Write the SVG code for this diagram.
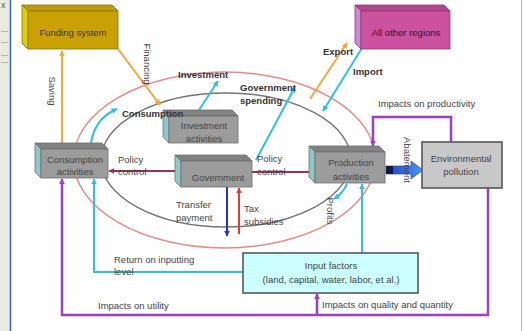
<svg xmlns="http://www.w3.org/2000/svg" width="526" height="331" viewBox="0 0 526 331">
  <style>
    .t { font-family: "Liberation Sans", Arial, sans-serif; font-size: 9.5px; fill: #444; }
    .b { font-weight: bold; fill: #333; }
    .m { text-anchor: middle; }
    .ln { fill: none; stroke-width: 2; }
    .cy { stroke: #30bfe6; }
    .or { stroke: #f2a93a; }
    .pu { stroke: #9a3fc6; stroke-width: 2.5; }
    .mr { stroke: #9b2f55; }
    .gtop { fill: #828282; stroke: #6e6e6e; stroke-width: 0.8; }
    .gside { fill: #8ccaca; stroke: #6e6e6e; stroke-width: 0.8; }
    .gfront { fill: #9c9c9c; stroke: #6e6e6e; stroke-width: 0.8; }
  </style>
  <defs>
    <marker id="aCy" viewBox="0 0 10 10" refX="9" refY="5" markerWidth="6" markerHeight="6" orient="auto" markerUnits="userSpaceOnUse"><path d="M0,0 L10,5 L0,10 z" fill="#30bfe6"/></marker>
    <marker id="aOr" viewBox="0 0 10 10" refX="9" refY="5" markerWidth="6" markerHeight="6" orient="auto" markerUnits="userSpaceOnUse"><path d="M0,0 L10,5 L0,10 z" fill="#f2a93a"/></marker>
    <marker id="aPu" viewBox="0 0 10 10" refX="9" refY="5" markerWidth="6" markerHeight="6" orient="auto" markerUnits="userSpaceOnUse"><path d="M0,0 L10,5 L0,10 z" fill="#9a3fc6"/></marker>
    <marker id="aMr" viewBox="0 0 10 10" refX="9" refY="5" markerWidth="6" markerHeight="6" orient="auto" markerUnits="userSpaceOnUse"><path d="M0,0 L10,5 L0,10 z" fill="#9b2f55"/></marker>
    <marker id="aBl" viewBox="0 0 10 10" refX="9" refY="5" markerWidth="6" markerHeight="6" orient="auto" markerUnits="userSpaceOnUse"><path d="M0,0 L10,5 L0,10 z" fill="#2233cc"/></marker>
    <marker id="aRd" viewBox="0 0 10 10" refX="9" refY="5" markerWidth="6" markerHeight="6" orient="auto" markerUnits="userSpaceOnUse"><path d="M0,0 L10,5 L0,10 z" fill="#e83a3a"/></marker>
    <linearGradient id="abate" x1="0" y1="0" x2="1" y2="0">
      <stop offset="0" stop-color="#1d44c8"/>
      <stop offset="1" stop-color="#4d95f2"/>
    </linearGradient>
  </defs>

  <!-- page -->
  <rect x="0" y="0" width="526" height="331" fill="#ffffff"/>
  <rect x="0" y="0" width="10" height="331" fill="#ebeadf"/>
  <line x1="10.5" y1="0" x2="10.5" y2="331" stroke="#3a66c8" stroke-width="1.5"/>
  <text x="1" y="8" class="t" style="font-size:9px;fill:#555">x</text>
  <g stroke="#b5b5aa" stroke-width="1">
    <line x1="1" y1="31.5" x2="8" y2="31.5"/>
    <line x1="1" y1="42.5" x2="8" y2="42.5"/>
    <line x1="1" y1="55.5" x2="8" y2="55.5"/>
    <line x1="1" y1="62.5" x2="8" y2="62.5"/>
  </g>
  <line x1="521.5" y1="0" x2="521.5" y2="331" stroke="#b8b8b8" stroke-width="1"/>

  <!-- circular flow rings -->
  <g id="rings" fill="none">
    <ellipse cx="224.5" cy="160" rx="151" ry="88" stroke="#e88888" stroke-width="1.5"/>
    <ellipse cx="226" cy="160" rx="125" ry="67" stroke="#747474" stroke-width="1.5"/>
  </g>

  <!-- connectors -->
  <g id="connectors">
    <line class="ln or" x1="62" y1="143" x2="62" y2="51" marker-end="url(#aOr)"/>
    <line class="ln or" x1="118" y1="49" x2="160" y2="105" marker-end="url(#aOr)"/>
    <line class="ln or" x1="310" y1="99" x2="347" y2="43" marker-end="url(#aOr)"/>
    <path class="ln cy" d="M91 143 Q95 118 117 109" marker-end="url(#aCy)"/>
    <line class="ln cy" x1="199" y1="110" x2="218" y2="81" marker-end="url(#aCy)"/>
    <line class="ln cy" x1="256" y1="160" x2="295" y2="87" marker-end="url(#aCy)"/>
    <line class="ln cy" x1="362" y1="48" x2="323" y2="111" marker-end="url(#aCy)"/>
    <path class="ln cy" d="M347 184 Q343 193 334 199" marker-end="url(#aCy)"/>
    <line class="ln cy" x1="362" y1="253" x2="362" y2="184" marker-end="url(#aCy)"/>
    <polyline class="ln cy" points="243,272 94,272 94,179" marker-end="url(#aCy)"/>
    <line class="ln mr" x1="176" y1="171" x2="109" y2="171" marker-end="url(#aMr)"/>
    <line class="ln mr" x1="252" y1="172" x2="314" y2="172" marker-end="url(#aMr)"/>
    <line class="ln" stroke="#2233cc" x1="227" y1="187" x2="227" y2="236" marker-end="url(#aBl)"/>
    <line class="ln" stroke="#e83a3a" x1="239" y1="234" x2="239" y2="188" marker-end="url(#aRd)"/>
    <polyline class="ln pu" points="488,188 488,315 62,315 62,179" marker-end="url(#aPu)"/>
    <line class="ln pu" x1="317" y1="315" x2="317" y2="294" marker-end="url(#aPu)"/>
    <polyline class="ln pu" points="451,142 451,117 373,117 373,146" marker-end="url(#aPu)"/>
    <!-- abatement block arrow -->
    <polygon points="386,166 411,166 411,161 423,170 411,179 411,174 386,174" fill="url(#abate)" stroke="#1a3aa0" stroke-width="0.6"/>
    <rect x="386" y="166" width="7" height="8" fill="#101a40"/>
  </g>

  <!-- nodes -->
  <g id="funding">
    <polygon points="28,11 118,11 112,5 22,5" fill="#bf9a10" stroke="#8f7400" stroke-width="0.8"/>
    <polygon points="28,11 28,49 22,43 22,5" fill="#dccf08" stroke="#8f7400" stroke-width="0.8"/>
    <rect x="28" y="11" width="90" height="38" fill="#caa104" stroke="#8f7400" stroke-width="0.8"/>
    <text class="t m" x="73" y="36" style="fill:#3a3000">Funding system</text>
  </g>

  <g id="regions">
    <polygon points="361,11 450,11 444,5 355,5" fill="#b3478d" stroke="#93386f" stroke-width="0.8"/>
    <polygon points="361,11 361,49 355,43 355,5" fill="#c98ad6" stroke="#93386f" stroke-width="0.8"/>
    <rect x="361" y="11" width="89" height="38" fill="#cc519f" stroke="#93386f" stroke-width="0.8"/>
    <text class="t m" x="406" y="36" style="fill:#3a1030">All other regions</text>
  </g>

  <g id="consumption">
    <polygon class="gtop" points="41,149 108,149 102,143 35,143"/>
    <polygon class="gside" points="41,149 41,178 35,172 35,143"/>
    <rect class="gfront" x="41" y="149" width="67" height="29"/>
    <text class="t m" x="75" y="163">Consumption</text>
    <text class="t m" x="75" y="175">activities</text>
  </g>

  <g id="investment">
    <polygon class="gtop" points="169,116 238,116 232,110 163,110"/>
    <polygon class="gside" points="169,116 169,143 163,137 163,110"/>
    <rect class="gfront" x="169" y="116" width="69" height="27"/>
    <text class="t m" x="204" y="129">Investment</text>
    <text class="t m" x="204" y="142">activities</text>
  </g>

  <g id="government">
    <polygon class="gtop" points="181,161 252,161 246,155 175,155"/>
    <polygon class="gside" points="181,161 181,187 175,181 175,155"/>
    <rect class="gfront" x="181" y="161" width="71" height="26"/>
    <text class="t m" x="218" y="181">Government</text>
  </g>

  <g id="production">
    <polygon class="gtop" points="315,152 385,152 379,146 309,146"/>
    <polygon class="gside" points="315,152 315,183 309,177 309,146"/>
    <rect class="gfront" x="315" y="152" width="70" height="31"/>
    <text class="t m" x="351" y="166">Production</text>
    <text class="t m" x="351" y="180">activities</text>
  </g>

  <g id="pollution">
    <rect x="422" y="142" width="80" height="46" fill="#c8c8c8" stroke="#585858" stroke-width="1.6"/>
    <text class="t m" x="461" y="162">Environmental</text>
    <text class="t m" x="461" y="175">pollution</text>
  </g>

  <g id="inputs">
    <rect x="243" y="253" width="175" height="40" fill="#ccffff" stroke="#585858" stroke-width="1.6"/>
    <text class="t m" x="331" y="269">Input factors</text>
    <text class="t m" x="331" y="283">(land, capital, water, labor, et al.)</text>
  </g>

  <!-- connector labels -->
  <g id="labels">
    <text class="t m" transform="translate(52,91) rotate(90)" dy="3">Saving</text>
    <text class="t m" transform="translate(147,64) rotate(90)" dy="3">Financing</text>
    <text class="t b" x="122" y="117">Consumption</text>
    <text class="t b" x="178" y="78">Investment</text>
    <text class="t b" x="240" y="91">Government</text>
    <text class="t b" x="240" y="104">spending</text>
    <text class="t b" x="323" y="55">Export</text>
    <text class="t b" x="353" y="75">Import</text>
    <text class="t" x="378" y="107">Impacts on productivity</text>
    <text class="t" x="118" y="163">Policy</text>
    <text class="t" x="118" y="175">control</text>
    <text class="t" x="257" y="162">Policy</text>
    <text class="t" x="257" y="175">control</text>
    <text class="t" x="176" y="208">Transfer</text>
    <text class="t" x="176" y="221">payment</text>
    <text class="t" x="244" y="212">Tax</text>
    <text class="t" x="244" y="225">subsidies</text>
    <text class="t m" transform="translate(330,211) rotate(90)" dy="3">Profits</text>
    <text class="t m" transform="translate(407,160) rotate(90)" dy="3">Abatement</text>
    <text class="t" x="114" y="263">Return on inputting</text>
    <text class="t" x="114" y="275">level</text>
    <text class="t" x="98" y="309">Impacts on utility</text>
    <text class="t" x="322" y="308">Impacts on quality and quantity</text>
  </g>
</svg>
